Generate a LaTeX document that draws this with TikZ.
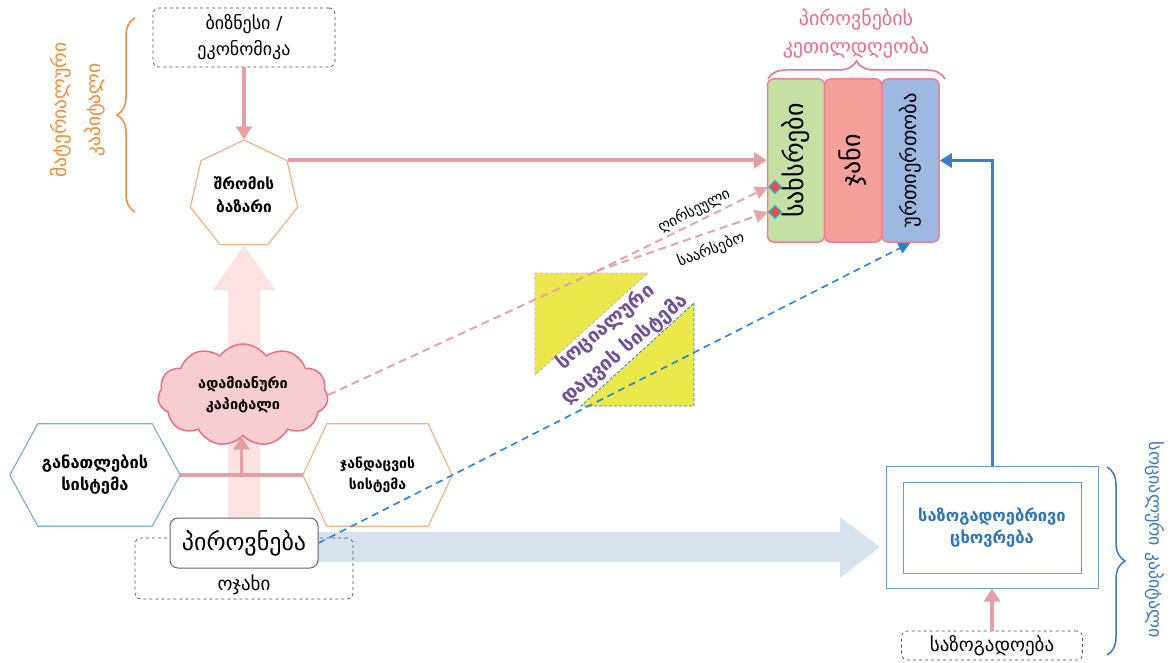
\documentclass[tikz,border=0pt]{standalone}
\usepackage{fontspec}
\setmainfont{DejaVu Sans}
\usetikzlibrary{shapes.geometric,shapes.symbols,arrows.meta,decorations.pathreplacing,calc}
\definecolor{pinkline}{RGB}{228,160,160}
\definecolor{lightpink}{RGB}{252,226,226}
\definecolor{lightblue}{RGB}{214,227,239}
\definecolor{orangetxt}{RGB}{240,140,60}
\definecolor{heptorange}{RGB}{244,177,131}
\definecolor{hexblue}{RGB}{120,180,210}
\definecolor{cloudfill}{RGB}{248,205,210}
\definecolor{clouddraw}{RGB}{232,110,135}
\definecolor{colborder}{RGB}{234,128,150}
\definecolor{colgreen}{RGB}{197,224,165}
\definecolor{colred}{RGB}{244,160,155}
\definecolor{colblue}{RGB}{157,185,225}
\definecolor{pinkdash}{RGB}{230,165,165}
\definecolor{bluedash}{RGB}{40,130,210}
\definecolor{bluearrow}{RGB}{60,125,195}
\definecolor{frameblue}{RGB}{110,155,210}
\definecolor{frametext}{RGB}{46,117,182}
\definecolor{titlepink}{RGB}{232,110,140}
\definecolor{triyellow}{RGB}{235,232,75}
\definecolor{purpletxt}{RGB}{112,80,150}
\definecolor{braceblue}{RGB}{60,120,190}
\definecolor{diamred}{RGB}{232,80,58}
\definecolor{diamblue}{RGB}{41,168,224}
\tikzset{
  dashbox/.style={draw=black!70, dashed, rounded corners=6pt, line width=0.7pt},
  pinkarrow/.style={draw=pinkline, line width=4pt, -{Triangle[length=13pt,width=16pt]}},
  pinkconn/.style={draw=pinkline, line width=4pt},
  colbox/.style={rotate=90, minimum width=163pt, minimum height=57pt, draw=colborder, line width=1.5pt, rounded corners=6pt, inner sep=0pt},
  hexbox/.style={minimum height=102pt, inner sep=0pt, align=center, font=\bfseries\fontsize{16.5}{22}\selectfont},
  pdash/.style={draw=pinkdash, line width=2pt, dash pattern=on 8pt off 5pt},
  bdash/.style={draw=bluedash, line width=1.6pt, dash pattern=on 7pt off 5pt},
  diam/.style={diamond, fill=diamred, draw=diamblue, line width=1.2pt, minimum size=13pt, inner sep=0pt},
  mybrace/.style={decorate, decoration={brace, amplitude=#1}, line width=1.5pt},
}
\begin{document}
\begin{tikzpicture}[x=1pt,y=-1pt]
\useasboundingbox (0,0) rectangle (1174,663);
\fill[white] (0,0) rectangle (1174,663);

% big faint arrows
\fill[lightpink] (228,532) -- (228,290) -- (213,290) -- (244,245) -- (275,290) -- (260,290) -- (260,532) -- cycle;
\fill[lightblue] (318,532) -- (840,532) -- (840,517) -- (880,547) -- (840,578) -- (840,562) -- (318,562) -- cycle;

% top left
\node[dashbox, minimum width=182pt, minimum height=59pt, align=center, font=\fontsize{18}{26}\selectfont] (biz) at (244,37.5) {ბიზნესი /\\ეკონომიკა};
\node[regular polygon, regular polygon sides=7, minimum size=110pt, draw=heptorange, line width=1.2pt, fill=white, inner sep=0pt, align=center, font=\bfseries\fontsize{15.5}{23}\selectfont] (labor) at (244,195) {შრომის\\ბაზარი};
\draw[pinkarrow] (biz.south) -- (labor.corner 1);

\draw[mybrace=18pt, draw=orangetxt] (135,212) -- (135,18);
\node[rotate=90, text=orangetxt, align=center, font=\fontsize{19.5}{34}\selectfont] (matcap) at (78,110) {მატერიალური\\კაპიტალი};

% columns
\node[colbox, fill=colgreen, font=\fontsize{26}{28}\selectfont] (c1) at (796,160.5) {სახსრები};
\node[colbox, fill=colred, font=\fontsize{26}{28}\selectfont] (c2) at (853,160.5) {ჯანი};
\node[colbox, fill=colblue, font=\fontsize{20.5}{24}\selectfont] (c3) at (910.5,160.5) {ურთიერთობა};
\draw[mybrace=18pt, draw=titlepink] (768,79) -- (945,79);
\node[text=titlepink, align=center, font=\fontsize{20}{28}\selectfont] (wellbeing) at (856,33) {პიროვნების\\კეთილდღეობა};

\draw[pinkarrow] (labor.corner 7) -- (labor.corner 7 -| c1.north);

% diamonds
\node[diam] (d1) at (775,187) {};
\node[diam] (d2) at (775,212) {};

% hexagons
\node[hexbox, minimum width=170pt] (edu) at (95,475) {განათლების\\სისტემა};
\draw[hexblue, line width=1.2pt] (edu.west) -- ($(edu.north west)+(28,0)$) -- ($(edu.north east)+(-28,0)$) -- (edu.east) -- ($(edu.south east)+(-28,0)$) -- ($(edu.south west)+(28,0)$) -- cycle;
\node[hexbox, minimum width=149pt, font=\bfseries\fontsize{14}{21}\selectfont] (health) at (377.5,475) {ჯანდაცვის\\სისტემა};
\draw[heptorange, line width=1.2pt] (health.west) -- ($(health.north west)+(24,0)$) -- ($(health.north east)+(-24,0)$) -- (health.east) -- ($(health.south east)+(-24,0)$) -- ($(health.south west)+(24,0)$) -- cycle;

% cloud
\node[cloud, cloud puffs=11, cloud puff arc=110, aspect=1.7, draw=clouddraw, fill=cloudfill, line width=1.5pt, minimum width=170pt, minimum height=102pt, inner sep=0pt, align=center, font=\bfseries\fontsize{14.5}{21}\selectfont] (cloud) at (243,395) {ადამიანური\\კაპიტალი};

\draw[pinkconn, line width=3.5pt] (edu.east) -- (health.west);
\coordinate (mid) at ($(edu.east)!0.5!(health.west)$);
\draw[pinkarrow, line width=3.5pt] (mid) -- (mid |- cloud.south);

% family and person
\node[dashbox, minimum width=218pt, minimum height=61pt] (family) at (244,568.5) {};
\node[font=\fontsize{19}{20}\selectfont] (famtext) at (244,585) {ოჯახი};
\node[draw=black!60, line width=1pt, rounded corners=8pt, fill=white, minimum width=148pt, minimum height=50pt, font=\fontsize{24}{26}\selectfont] (person) at (244,543) {პიროვნება};

% social protection triangles
\filldraw[fill=triyellow, draw=pinkdash, line width=0.8pt, densely dashed] (535,273) -- (648,273) -- (535,375) -- cycle;
\filldraw[fill=triyellow, draw=bluedash, line width=0.8pt, densely dashed] (694,303) -- (694,406) -- (581,406) -- cycle;
\node[rotate=40, text=purpletxt, align=center, inner sep=0pt, font=\bfseries\fontsize{19.5}{29}\selectfont] (sps) at (615,338) {სოციალური\\დაცვის სისტემა};

% dashed connectors
\coordinate (split) at (597,271);
\draw[pdash] (cloud.east) -- (split);
\draw[pdash, -{Triangle[length=13pt,width=13pt]}] (split) -- (d1.west);
\draw[pdash, -{Triangle[length=13pt,width=13pt]}] (split) -- (d2.west);
\node[rotate=27, inner sep=0pt, font=\fontsize{15}{16}\selectfont] (lbl1) at (694,211) {ღირსეული};
\node[rotate=21, inner sep=0pt, font=\fontsize{15}{16}\selectfont] (lbl2) at (711,250) {საარსებო};
\draw[bdash, -{Triangle[length=12pt,width=11pt]}] (person.east) -- (c3.west);

% society
\node[draw=frameblue, line width=1pt, minimum width=212pt, minimum height=122pt] (frame) at (992,527) {};
\node[draw=frameblue, line width=1pt, minimum width=178pt, minimum height=91pt, text=frametext, align=center, font=\bfseries\fontsize{16.5}{22}\selectfont] (social) at (992,527.5) {საზოგადოებრივი\\ცხოვრება};
\node[dashbox, minimum width=181pt, minimum height=29pt, font=\fontsize{19}{20}\selectfont] (society) at (992,645.5) {საზოგადოება};
\draw[pinkarrow] (society.north) -- (frame.south);
\draw[draw=bluearrow, line width=3pt, -{Triangle[length=12pt,width=14pt]}] (frame.north) |- (c3.south);

\draw[mybrace=18pt, draw=braceblue] (1107,467) -- (1107,655);
\node[rotate=-90, text=braceblue, font=\fontsize{18}{20}\selectfont] (soccap) at (1155,540) {სოციალური კაპიტალი};
\end{tikzpicture}
\end{document}
